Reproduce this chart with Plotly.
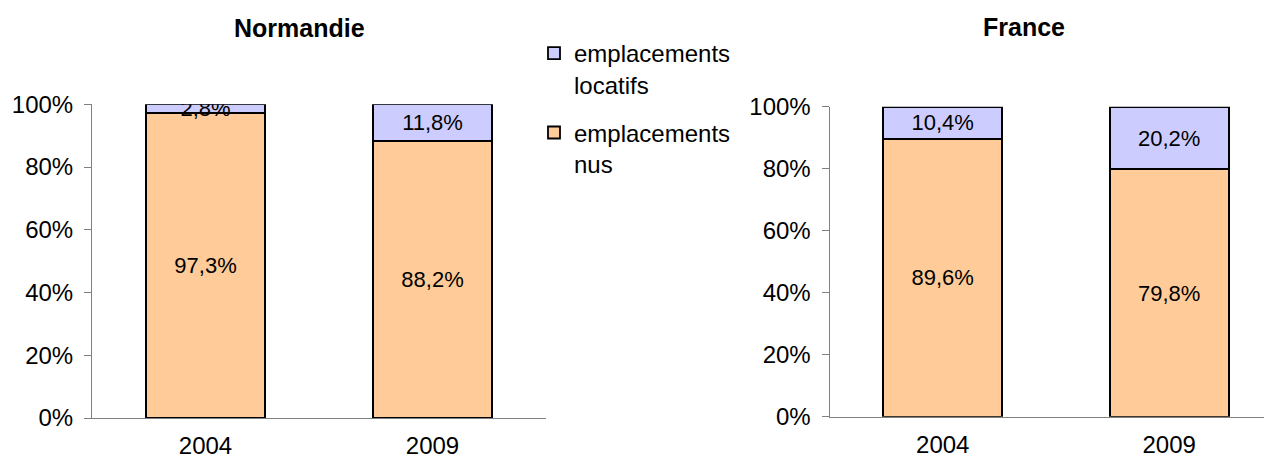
import plotly.graph_objects as go

years = ["2004", "2009"]
normandie_nus = [97.3, 88.2]
normandie_locatifs = [2.8, 11.8]
france_nus = [89.6, 79.8]
france_locatifs = [10.4, 20.2]
pct_ticks = [0, 20, 40, 60, 80, 100]

FONT = "Liberation Sans, Arial, sans-serif"
SIZE = 24
NUS_COLOR = "#FFCC99"
LOC_COLOR = "#CCCCFF"

# the page body has an 8px margin, so the figure is drawn 8px in from the window corner
W, H, OFF = 1264, 451, 8


def px(x):
    return (x - OFF) / W


def py(y):
    return 1 - (y - OFF) / H


def _fmt(vals):
    return [f"{v:.1f}%".replace(".", ",") for v in vals]


def _bar(name, vals, color, xaxis, yaxis, show, rank):
    return go.Bar(
        x=years, y=vals, name=name,
        text=_fmt(vals), textposition="inside", insidetextanchor="middle",
        textangle=0, constraintext="none",
        textfont=dict(family=FONT, size=22, color="black"),
        marker=dict(color=color, line=dict(color="black", width=1.8)),
        width=0.525, xaxis=xaxis, yaxis=yaxis,
        legendgroup=name, showlegend=show, legendrank=rank,
    )


fig = go.Figure()
fig.add_trace(_bar("emplacements<br>nus", normandie_nus, NUS_COLOR, "x", "y", True, 2))
fig.add_trace(_bar("emplacements<br>locatifs", normandie_locatifs, LOC_COLOR, "x", "y", True, 1))
fig.add_trace(_bar("emplacements<br>nus", france_nus, NUS_COLOR, "x2", "y2", False, 2))
fig.add_trace(_bar("emplacements<br>locatifs", france_locatifs, LOC_COLOR, "x2", "y2", False, 1))

xaxis_style = dict(
    type="category", showline=True, linecolor="#808080", linewidth=1,
    ticks="", showgrid=False, ticklabelstandoff=6, automargin=False,
    tickfont=dict(family=FONT, size=SIZE, color="black"),
)
yaxis_style = dict(
    range=[0, 100], tickmode="array", tickvals=pct_ticks,
    ticktext=[f"{t}%" for t in pct_ticks],
    showline=True, linecolor="#808080", linewidth=1,
    ticks="outside", ticklen=7, tickcolor="#808080",
    showgrid=False, zeroline=False, ticklabelstandoff=6, automargin=False,
    tickfont=dict(family=FONT, size=SIZE, color="black"),
)

fig.update_layout(
    width=W, height=H,
    margin=dict(l=0, r=0, t=0, b=0, autoexpand=False),
    paper_bgcolor="white", plot_bgcolor="white",
    barmode="stack", barnorm="percent",
    font=dict(family=FONT, size=SIZE, color="black"),
    xaxis=dict(domain=[px(92), px(546)], range=[-0.5, 1.5], **xaxis_style),
    yaxis=dict(domain=[py(418), py(104.3)], anchor="x", **yaxis_style),
    xaxis2=dict(domain=[px(829.5), 1.0], range=[-0.5, 1.454], anchor="y2", **xaxis_style),
    yaxis2=dict(domain=[py(416.7), py(106.7)], anchor="x2", **yaxis_style),
    legend=dict(
        x=px(534), y=py(31), xanchor="left", yanchor="top",
        traceorder="grouped", valign="top", tracegroupgap=14,
        font=dict(family=FONT, size=SIZE, color="black"),
        bgcolor="rgba(0,0,0,0)",
    ),
    annotations=[
        dict(text="<b>Normandie</b>", x=px(299), y=py(28), xref="paper", yref="paper",
             xanchor="center", yanchor="middle", showarrow=False,
             font=dict(family=FONT, size=25, color="black")),
        dict(text="<b>France</b>", x=px(1024), y=py(27), xref="paper", yref="paper",
             xanchor="center", yanchor="middle", showarrow=False,
             font=dict(family=FONT, size=25, color="black")),
    ],
)

fig.write_html("out.html")
